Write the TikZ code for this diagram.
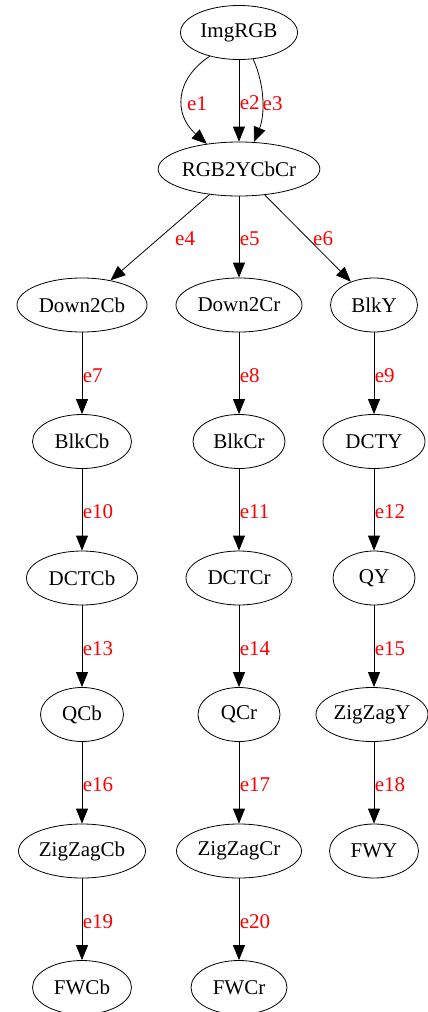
\documentclass[tikz,border=0pt]{standalone}
\usepackage{fontspec}
\setmainfont{Liberation Serif}
\usetikzlibrary{shapes.geometric,arrows.meta}
\begin{document}
\begin{tikzpicture}[x=1pt,y=-1pt,
  box/.style={ellipse,draw,line width=0.8pt,inner sep=0pt,minimum height=54pt,minimum width=#1,font=\fontsize{21}{24}\selectfont},
  edge/.style={draw,line width=0.8pt,-{Triangle[length=15pt,width=12pt]}},
  lab/.style={text=red,font=\fontsize{21}{24}\selectfont,inner sep=0pt,anchor=west},
  vlab/.style={lab,xshift=0.5pt,yshift=-2pt}]
\useasboundingbox (0,0) rectangle (428,1012);
% nodes
\node[box=117pt] (img) at (239,32.5) {ImgRGB};
\node[box=156pt] (rgb) at (239,169) {RGB2YCbCr};
\node[box=130pt] (d2cb) at (82,305) {Down2Cb};
\node[box=126pt] (d2cr) at (239,305) {Down2Cr};
\node[box=87pt]  (blky) at (374,305) {BlkY};
\node[box=99pt]  (blkcb) at (82,441.5) {BlkCb};
\node[box=92pt]  (blkcr) at (239,441.5) {BlkCr};
\node[box=102pt] (dcty) at (374,441.5) {DCTY};
\node[box=111pt] (dctcb) at (82,578) {DCTCb};
\node[box=106pt] (dctcr) at (239,578) {DCTCr};
\node[box=82pt]  (qy) at (374,578) {QY};
\node[box=83pt]  (qcb) at (82,714.5) {QCb};
\node[box=82pt]  (qcr) at (239,714.5) {QCr};
\node[box=112pt] (zzy) at (372,714.5) {ZigZagY};
\node[box=127pt] (zzcb) at (82,851) {ZigZagCb};
\node[box=125pt] (zzcr) at (239,851) {ZigZagCr};
\node[box=89pt]  (fwy) at (374,851) {FWY};
\node[box=99pt]  (fwcb) at (82,987.5) {FWCb};
\node[box=96pt]  (fwcr) at (239,987.5) {FWCr};
% top edges
\draw[edge] (img.-141) .. controls (174,80) and (174,115) .. (rgb.142);
\node[lab] (l1) at (187,104) {e1};
\draw[edge] (img) -- node[vlab] (l2) {e2} (rgb);
\draw[edge] (img.-62) .. controls (265,85) and (265,115) .. (rgb.61);
\node[lab] (l3) at (262.5,104) {e3};
\draw[edge] (rgb) -- (d2cb);
\node[lab] (l4) at (175,239) {e4};
\draw[edge] (rgb) -- node[vlab] (l5) {e5} (d2cr);
\draw[edge] (rgb) -- (blky);
\node[lab] (l6) at (313,239) {e6};
% columns
\draw[edge] (d2cb) -- node[vlab] {e7} (blkcb);
\draw[edge] (d2cr) -- node[vlab] {e8} (blkcr);
\draw[edge] (blky) -- node[vlab] {e9} (dcty);
\draw[edge] (blkcb) -- node[vlab] {e10} (dctcb);
\draw[edge] (blkcr) -- node[vlab] {e11} (dctcr);
\draw[edge] (dcty) -- node[vlab] {e12} (qy);
\draw[edge] (dctcb) -- node[vlab] {e13} (qcb);
\draw[edge] (dctcr) -- node[vlab] {e14} (qcr);
\draw[edge] (qy.south) -- node[vlab] {e15} (qy.south |- zzy.north);
\draw[edge] (qcb) -- node[vlab] {e16} (zzcb);
\draw[edge] (qcr) -- node[vlab] {e17} (zzcr);
\draw[edge] (zzy.south -| fwy.north) -- node[vlab] {e18} (fwy);
\draw[edge] (zzcb) -- node[vlab] {e19} (fwcb);
\draw[edge] (zzcr) -- node[vlab] {e20} (fwcr);
\end{tikzpicture}
\end{document}
